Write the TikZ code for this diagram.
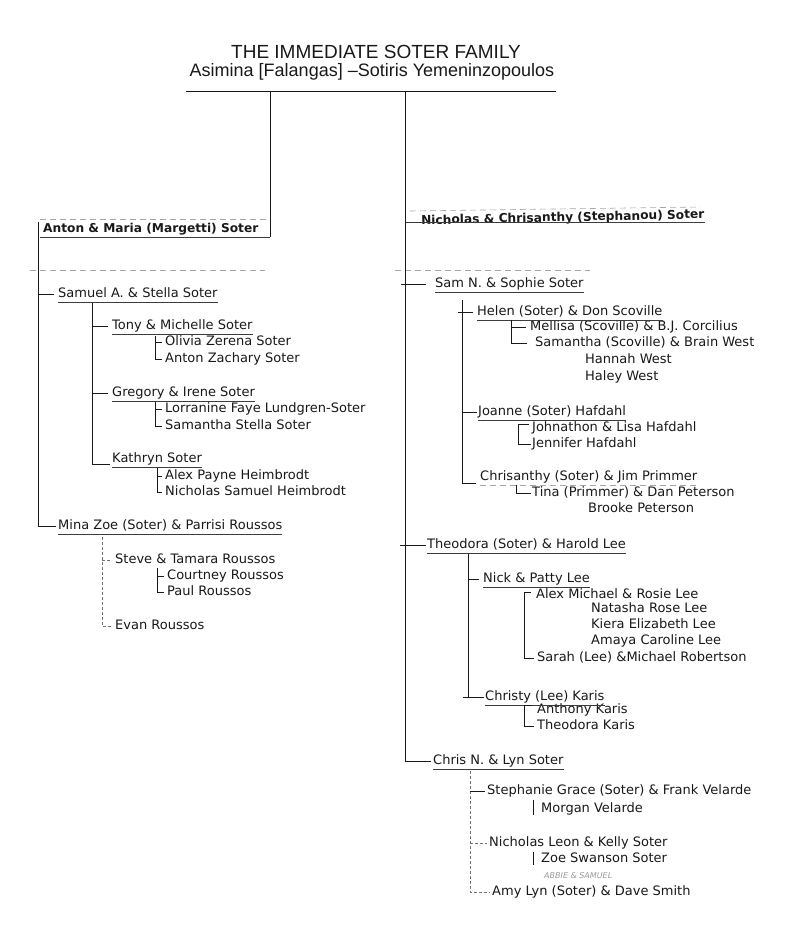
\documentclass[tikz,border=0pt]{standalone}
\usepackage{fontspec}
\setmainfont{DejaVu Sans}
\newfontfamily\titlefont{Liberation Sans}
\usetikzlibrary{calc}
\definecolor{ink}{gray}{0.1}
\begin{document}
\begin{tikzpicture}[x=1pt,y=-1pt,
  every node/.style={inner sep=0pt, text=ink},
  per/.style={anchor=west, font=\fontsize{13}{15}\selectfont, text height=9.5pt, text depth=2.5pt},
  boldper/.style={per, font=\fontsize{12.2}{14}\selectfont\bfseries},
  ttl/.style={font=\titlefont\fontsize{19}{22}\selectfont},
  sttl/.style={font=\titlefont\fontsize{18}{21}\selectfont},
  ln/.style={draw=ink, line width=0.9pt},
  ul/.style={draw=ink!85, line width=0.8pt},
  faint/.style={draw=black!35, line width=0.6pt, dash pattern=on 6pt off 4pt},
  dotl/.style={draw=black!55, line width=0.8pt, dash pattern=on 3pt off 2pt}
]
\useasboundingbox (0,0) rectangle (790,931);
\fill[white] (0,0) rectangle (790,931);

% ---------- title ----------
\node[ttl] (title) at (376,52) {THE IMMEDIATE SOTER FAMILY};
\node[sttl] (sub) at (372,72) {Asimina [Falangas] –Sotiris Yemeninzopoulos};
\coordinate (barL) at (186,91);
\coordinate (barR) at (556,91);
\coordinate (dropA) at (270,91);
\coordinate (dropN) at (405,91);
\draw[ln] (barL) -- (barR);

% ---------- left branch ----------
\node[boldper] (anton) at (43,229) {Anton \& Maria (Margetti) Soter};
\node[per] (samuel) at (58,294) {Samuel A. \& Stella Soter};
\node[per] (tony) at (112,326) {Tony \& Michelle Soter};
\node[per] (olivia) at (165,342) {Olivia Zerena Soter};
\node[per] (antonz) at (165,359) {Anton Zachary Soter};
\node[per] (gregory) at (112,393) {Gregory \& Irene Soter};
\node[per] (lorranine) at (165,409) {Lorranine Faye Lundgren-Soter};
\node[per] (samstella) at (165,426) {Samantha Stella Soter};
\node[per] (kathryn) at (112,459) {Kathryn Soter};
\node[per] (alexp) at (165,476) {Alex Payne Heimbrodt};
\node[per] (nicsam) at (165,492) {Nicholas Samuel Heimbrodt};
\node[per] (mina) at (58,526) {Mina Zoe (Soter) \& Parrisi Roussos};
\node[per] (steve) at (115,560) {Steve \& Tamara Roussos};
\node[per] (courtney) at (167,576) {Courtney Roussos};
\node[per] (paul) at (167,592) {Paul Roussos};
\node[per] (evan) at (115,626) {Evan Roussos};

% underlines (left)
\foreach \n in {samuel,tony,gregory,kathryn,mina}
  \draw[ul] ([yshift=-2pt]\n.south west) -- ([yshift=-2pt]\n.south east);
\coordinate (antonU) at ([yshift=-2pt]anton.south east);
\draw[ul] (antonU -| 40,0) -- (antonU -| dropA);
\draw[faint] (40,219) -- (268,219);

% connectors (left)
\draw[ln] (dropA) -- (antonU -| dropA);
\coordinate (lsp) at (38,222);
\draw[ln] (lsp) |- ([xshift=-2pt]mina.west);
\draw[ln] (lsp |- samuel.west) -- ([xshift=-4pt]samuel.west);
\coordinate (ssp) at (92,303);
\draw[ln] (ssp) |- ([xshift=-2pt,yshift=-5pt]kathryn.west);
\draw[ln] (ssp |- tony.west) -- ([xshift=-4pt]tony.west);
\draw[ln] (ssp |- gregory.west) -- ([xshift=-4pt]gregory.west);
\coordinate (tb) at (155,336);
\draw[ln] (tb) |- ([xshift=-3pt]antonz.west);
\draw[ln] (tb |- olivia.west) -- ([xshift=-3pt]olivia.west);
\coordinate (gb) at (155,402);
\draw[ln] (gb) |- ([xshift=-3pt]samstella.west);
\draw[ln] (gb |- lorranine.west) -- ([xshift=-3pt]lorranine.west);
\coordinate (kb) at (157,468);
\draw[ln] (kb) |- ([xshift=-3pt]nicsam.west);
\draw[ln] (kb |- alexp.west) -- ([xshift=-3pt]alexp.west);
\coordinate (msp) at (102,537);
\draw[dotl] (msp) |- ([xshift=-2pt]evan.west);
\draw[dotl] (msp |- steve.west) -- ([xshift=-4pt]steve.west);
\coordinate (sb) at (157,568);
\draw[ln] (sb) |- ([xshift=-3pt]paul.west);
\draw[ln] (sb |- courtney.west) -- ([xshift=-3pt]courtney.west);
\draw[faint] (30,270) -- (265,270);

% ---------- right branch ----------
\node[boldper, rotate=1.2] (nicholas) at (421,221) {Nicholas \& Chrisanthy (Stephanou) Soter};
\node[per] (samn) at (435,284) {Sam N. \& Sophie Soter};
\node[per] (helen) at (477,312) {Helen (Soter) \& Don Scoville};
\node[per] (mellisa) at (530,327) {Mellisa (Scoville) \& B.J. Corcilius};
\node[per] (samantha) at (535,343) {Samantha (Scoville) \& Brain West};
\node[per] (hannah) at (585,360) {Hannah West};
\node[per] (haley) at (585,377) {Haley West};
\node[per] (joanne) at (478,412) {Joanne (Soter) Hafdahl};
\node[per] (johnathon) at (532,428) {Johnathon \& Lisa Hafdahl};
\node[per] (jennifer) at (532,444) {Jennifer Hafdahl};
\node[per] (chrisanthy) at (480,477) {Chrisanthy (Soter) \& Jim Primmer};
\node[per] (tina) at (532,493) {Tina (Primmer) \& Dan Peterson};
\node[per] (brooke) at (588,509) {Brooke Peterson};
\node[per] (theodora) at (427,545) {Theodora (Soter) \& Harold Lee};
\node[per] (nick) at (483,579) {Nick \& Patty Lee};
\node[per] (alexm) at (536,595) {Alex Michael \& Rosie Lee};
\node[per] (natasha) at (591,609) {Natasha Rose Lee};
\node[per] (kiera) at (591,625) {Kiera Elizabeth Lee};
\node[per] (amaya) at (591,641) {Amaya Caroline Lee};
\node[per] (sarah) at (537,658) {Sarah (Lee) \&Michael Robertson};
\node[per] (christy) at (485,697) {Christy (Lee) Karis};
\node[per] (anthony) at (537,710) {Anthony Karis};
\node[per] (theokaris) at (537,726) {Theodora Karis};
\node[per] (chrisn) at (433,761) {Chris N. \& Lyn Soter};
\node[per] (stephanie) at (487,791) {Stephanie Grace (Soter) \& Frank Velarde};
\node[per] (morgan) at (541,809) {Morgan Velarde};
\node[per] (nicleon) at (489,843) {Nicholas Leon \& Kelly Soter};
\node[per] (zoe) at (541,859) {Zoe Swanson Soter};
\node[per, font=\fontsize{8}{9}\selectfont\itshape, text=black!40] (abbie) at (544,875) {ABBIE \& SAMUEL};
\node[per] (amy) at (492,892) {Amy Lyn (Soter) \& Dave Smith};

% underlines (right)
\foreach \n in {samn,helen,joanne,theodora,nick,christy,chrisn}
  \draw[ul] ([yshift=-2pt]\n.south west) -- ([yshift=-2pt]\n.south east);
\draw[faint] ([yshift=-2pt]chrisanthy.south west) -- ([yshift=-2pt]chrisanthy.south east);
\coordinate (nicU) at ([yshift=-1pt]nicholas.south east);
\draw[ul] (dropN |- nicU) -- (nicU);
\draw[faint] (410,211) -- (700,207);
\draw[faint] (395,270) -- (590,270);

% connectors (right)
\draw[ln] (dropN) |- ([xshift=-2pt]chrisn.west);
\draw[ln] ($(dropN |- samn.west)+(-4,0)$) -- ([xshift=-9pt]samn.west);
\draw[ln] ($(dropN |- theodora.west)+(-5,0)$) -- ([xshift=-1pt]theodora.west);
\coordinate (samS) at (462,300);
\draw[ln] (samS) |- ([xshift=-4pt,yshift=-6pt]chrisanthy.west);
\draw[ln] ($(samS |- helen.west)+(-4,0)$) -- ([xshift=-4pt]helen.west);
\draw[ln] (samS |- joanne.west) -- ([xshift=-1pt]joanne.west);
\coordinate (hb) at (511,320);
\draw[ln] (hb) |- ([xshift=-8pt]samantha.west);
\draw[ln] (hb |- mellisa.west) -- ([xshift=-4pt]mellisa.west);
\coordinate (jb) at (518,424);
\draw[ln] (jb) |- ([xshift=-1pt]jennifer.west);
\draw[ln] (jb) -- ([xshift=-3pt]jb -| johnathon.west);
\coordinate (cb) at (516,485);
\draw[ln] (cb) |- ([xshift=-1pt]tina.west);
\coordinate (thS) at (468,554);
\draw[ln] (thS) |- ([xshift=-1pt]christy.west);
\draw[ln] (thS |- nick.west) -- ([xshift=-4pt]nick.west);
\draw[ln] ($(thS |- christy.west)+(-5,0)$) -- (thS |- christy.west);
\coordinate (nb) at (524,592);
\draw[ln] (nb) |- ([xshift=-3pt]sarah.west);
\draw[ln] (nb) -- ([xshift=-5pt]nb -| alexm.west);
\coordinate (kk) at (524,705);
\draw[ln] (kk) |- ([xshift=-3pt]theokaris.west);
\draw[ln] (kk) -- ([xshift=-5pt]kk -| anthony.west);
\coordinate (chS) at (470,771);
\draw[dotl] (chS) |- ([xshift=-2pt]amy.west);
\draw[ln] (chS |- stephanie.west) -- ([xshift=-2pt]stephanie.west);
\draw[dotl] (chS |- nicleon.west) -- ([xshift=-2pt]nicleon.west);
\draw[ln] ($(stephanie.south west)+(46,3)$) coordinate (mtop) -- (mtop |- morgan.south);
\draw[ln] ($(nicleon.south west)+(44,3)$) coordinate (ztop) -- (ztop |- zoe.south);
\end{tikzpicture}
\end{document}
